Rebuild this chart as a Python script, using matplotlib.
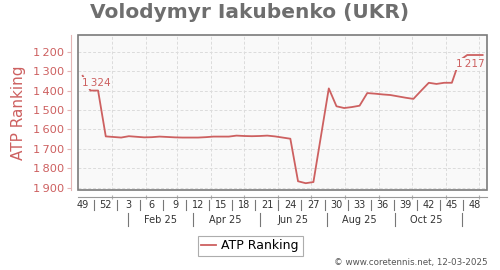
import matplotlib
matplotlib.use('Agg')
import matplotlib.pyplot as plt
from matplotlib.patches import Rectangle
from matplotlib.lines import Line2D
import matplotlib.transforms as mtransforms
import datetime as dt

# ---- data ----
weeks = [49, 50, 51, 52, 1, 2, 3, 4, 5, 6, 7, 8, 9, 10, 11, 12, 13, 14, 15, 16,
         17, 18, 19, 20, 21, 22, 23, 24, 25, 26, 27, 28, 29, 30, 31, 32, 33, 34,
         35, 36, 37, 38, 39, 40, 41, 42, 43, 44, 45, 46, 47, 48, 49]
ranking = [1324, 1400, 1400, 1636, 1639, 1642, 1635, 1638, 1641, 1640, 1637, 1639,
           1641, 1642, 1642, 1642, 1640, 1637, 1637, 1637, 1632, 1634, 1635, 1634,
           1632, 1636, 1642, 1648, 1867, 1877, 1871, 1630, 1389, 1481, 1490, 1485,
           1478, 1413, 1416, 1420, 1423, 1430, 1437, 1443, 1401, 1360, 1366, 1360,
           1360, 1245, 1217, 1217, 1217]
yticks = [1200, 1300, 1400, 1500, 1600, 1700, 1800, 1900]
month_labels = ["Feb 25", "Apr 25", "Jun 25", "Aug 25", "Oct 25"]
title = "Volodymyr Iakubenko (UKR)"
series_name = "ATP Ranking"
credit = "\u00a9 www.coretennis.net, 12-03-2025"

RED = '#cd6060'
PINK = '#e3b5b5'
GRID = '#dcdcdc'

ref = dt.date(2024, 12, 5)
def pos(d):
    return (d - ref).days / 7.0

grid_months = [dt.date(2025, m, 1) for m in range(1, 13)]
sep_months = [dt.date(2025, m, 15) for m in (1, 3, 5, 7, 9, 11)]
label_months = [dt.date(2025, m, 14) for m in (2, 4, 6, 8, 10)]

fig = plt.figure(figsize=(5, 2.7), dpi=100)
L, R, T, B = 78, 487, 35, 190
ax = fig.add_axes([L / 500, 1 - B / 270, (R - L) / 500, (B - T) / 270])
ax.set_facecolor('#f9f9f9')

x = list(range(len(ranking)))
ax.plot(x, ranking, color=RED, lw=1.3, zorder=3, solid_joinstyle='round')

ax.set_xlim(-0.61, 52.57)
ax.set_ylim(1912, 1114)

# grids
for v in yticks:
    ax.axhline(v, color=GRID, lw=0.7, ls=(0, (3, 2)), zorder=1)
for d in grid_months:
    ax.axvline(pos(d), color=GRID, lw=0.7, ls=(0, (3, 2)), zorder=1)

# frame
ax.add_patch(Rectangle((0, 0), 1, 1, transform=ax.transAxes, fill=False,
                       edgecolor='#7a7a7a', lw=1.2, zorder=5, clip_on=False))

# spines
for s in ('top', 'right'):
    ax.spines[s].set_visible(False)
ax.spines['left'].set_position(('outward', 5))
ax.spines['left'].set_color(PINK)
ax.spines['bottom'].set_position(('outward', 5))
ax.spines['bottom'].set_color('#9a9a9a')

ax.set_yticks(yticks)
ax.set_yticklabels([f"{v:,}".replace(",", "\u2009") for v in yticks])
ax.tick_params(axis='y', colors=PINK, labelcolor=RED, labelsize=8.2, length=3, pad=2)

ax.set_xticks([pos(d) for d in grid_months])
ax.set_xticklabels([])
ax.tick_params(axis='x', colors='#b0b0b0', length=3, direction='inout')

ax.set_ylabel(series_name, color=RED, fontsize=11, labelpad=5)

# week labels
def ay(py):
    return (B - py) / (B - T)
btr = mtransforms.blended_transform_factory(ax.transData, ax.transAxes)
for i in range(0, len(weeks), 3):
    ax.text(i, ay(205), str(weeks[i]), transform=btr, ha='center', va='center',
            fontsize=7, color='#333333', clip_on=False)
for i in range(0, len(weeks) - 3, 3):
    ax.add_line(Line2D([i + 1.45, i + 1.45], [ay(200), ay(210)], transform=btr,
                       color='#777777', lw=0.8, clip_on=False))
for d in sep_months:
    ax.add_line(Line2D([pos(d), pos(d)], [ay(213), ay(226)], transform=btr,
                       color='#777777', lw=0.8, clip_on=False))
for d, lab in zip(label_months, month_labels):
    ax.text(pos(d), ay(220), lab, transform=btr, ha='center', va='center',
            fontsize=7, color='#333333', clip_on=False)

# data labels
bb = dict(boxstyle='square,pad=0.1', facecolor='#f9f9f9', edgecolor='none')
ax.annotate(f"{ranking[0]:,}".replace(",", "\u2009"), (x[0], ranking[0]),
            xytext=(-1, -7), textcoords='offset pixels', ha='left', va='center',
            fontsize=7.5, color=RED, bbox=bb, zorder=4)
ax.annotate(f"{ranking[-1]:,}".replace(",", "\u2009"), (x[-1], ranking[-1]),
            xytext=(2, -9), textcoords='offset pixels', ha='right', va='center',
            fontsize=7.5, color=RED, bbox=bb, zorder=4)

fig.text(0.5, 1 - 13 / 270, title, ha='center', va='center', fontsize=14.5,
         fontweight='bold', color='#6e6e6e')

leg = fig.legend(handles=[Line2D([], [], color=RED, lw=1.3)], labels=[series_name],
                 loc='center', bbox_to_anchor=(250 / 500, 1 - 246 / 270),
                 fontsize=9, frameon=True, fancybox=False, edgecolor='#999999',
                 handlelength=1.2, handletextpad=0.4, borderpad=0.3)
leg.get_frame().set_linewidth(0.8)

fig.text(488 / 500, 1 - 263 / 270, credit, ha='right', va='center', fontsize=6.3,
         color='#555555')

fig.savefig('out.png', dpi=100)
